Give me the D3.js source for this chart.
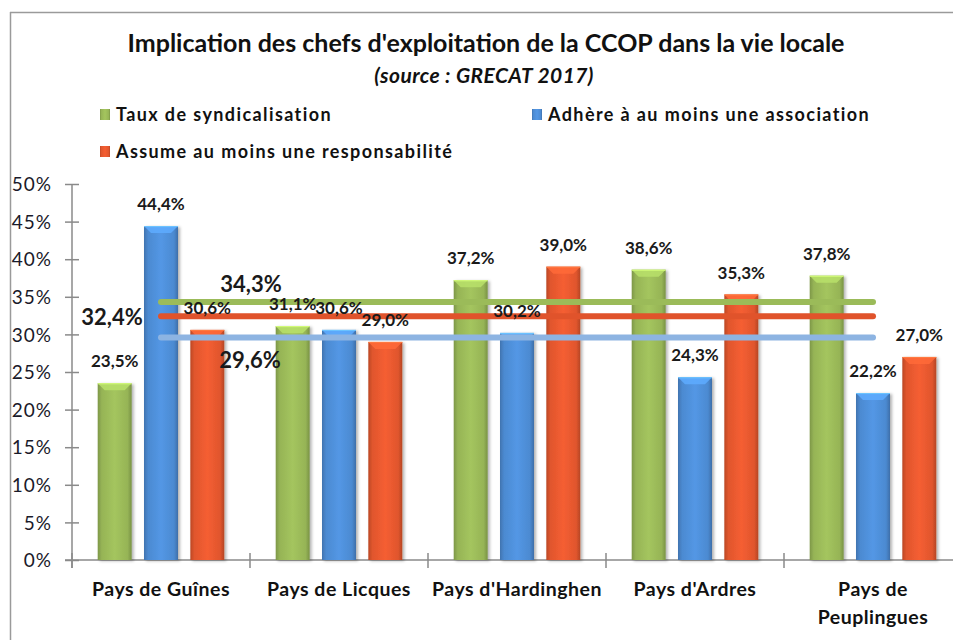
<!DOCTYPE html>
<html>
<head>
<meta charset="utf-8">
<script src="https://cdn.jsdelivr.net/npm/d3@7"></script>
<style>
  html, body { margin: 0; padding: 0; background: #fff; }
  svg { display: block; }
  text { font-family: Lato, "Open Sans", sans-serif; }
</style>
</head>
<body>
<svg id="chart" width="953" height="640"></svg>
<script>
// Territories (x categories)
const categories = ["Pays de Guînes", "Pays de Licques", "Pays d'Hardinghen", "Pays d'Ardres", "Pays de Peuplingues"];
// Series names
const seriesNames = ["Taux de syndicalisation", "Adhère à au moins une association", "Assume au moins une responsabilité"];
// Values in %
const syndicalisation = [23.5, 31.1, 37.2, 38.6, 37.8];
const association = [44.4, 30.6, 30.2, 24.3, 22.2];
const responsabilite = [30.6, 29.0, 39.0, 35.3, 27.0];
// Average over the CCOP for each series
const moyennes = [34.3, 29.6, 32.4];
// Y axis ticks
const yTicks = [0, 5, 10, 15, 20, 25, 30, 35, 40, 45, 50];

const colors = ["#9bbb59", "#4f8fd9", "#e8592f"];
const lineColors = ["#9bbb59", "#8db4e2", "#e0532b"];

const svg = d3.select("#chart");
const defs = svg.append("defs");

// Bar shading: darker edges, lighter centre
colors.forEach((c, i) => {
  const g = defs.append("linearGradient").attr("id", "grad" + i)
    .attr("x1", "0%").attr("x2", "100%").attr("y1", "0%").attr("y2", "0%");
  const base = d3.color(c);
  g.append("stop").attr("offset", "0%").attr("stop-color", base.darker(0.6));
  g.append("stop").attr("offset", "12%").attr("stop-color", base.darker(0.1));
  g.append("stop").attr("offset", "50%").attr("stop-color", base.brighter(0.15));
  g.append("stop").attr("offset", "88%").attr("stop-color", base.darker(0.1));
  g.append("stop").attr("offset", "100%").attr("stop-color", base.darker(0.7));
});
const shadow = defs.append("filter").attr("id", "shadow")
  .attr("x", "-20%").attr("y", "-10%").attr("width", "150%").attr("height", "130%");
shadow.append("feDropShadow").attr("dx", 2).attr("dy", 1).attr("stdDeviation", 1.8)
  .attr("flood-color", "#000").attr("flood-opacity", 0.3);

// Frame
svg.append("line").attr("x1", 10).attr("x2", 953).attr("y1", 12.5).attr("y2", 12.5)
  .attr("stroke", "#9a9a9a").attr("stroke-width", 1.5);
svg.append("line").attr("x1", 10.5).attr("x2", 10.5).attr("y1", 12).attr("y2", 640)
  .attr("stroke", "#9a9a9a").attr("stroke-width", 1.5);

// Title
svg.append("text").attr("x", 486).attr("y", 52).attr("text-anchor", "middle")
  .attr("font-size", 25).attr("font-weight", "bold").attr("fill", "#111")
  .text("Implication des chefs d'exploitation de la CCOP dans la vie locale");
svg.append("text").attr("x", 484).attr("y", 83).attr("text-anchor", "middle")
  .attr("font-size", 21).attr("font-weight", "bold").attr("font-style", "italic")
  .attr("letter-spacing", 0.4).attr("fill", "#111")
  .text("(source : GRECAT 2017)");

// Legend
const legendPos = [[100, 121], [532, 121], [100, 158]];
seriesNames.forEach((name, i) => {
  const g = svg.append("g").attr("transform", `translate(${legendPos[i][0]},${legendPos[i][1]})`);
  g.append("rect").attr("x", 0).attr("y", -12).attr("width", 10).attr("height", 11)
    .attr("fill", `url(#grad${i})`);
  g.append("text").attr("x", 16).attr("y", 0).attr("font-size", 18).attr("font-weight", "bold")
    .attr("letter-spacing", 1.4).attr("fill", "#111").text(name);
});

// Scales
const y = d3.scaleLinear().domain([0, 50]).range([560, 184]);
const x0 = d3.scaleBand().domain(categories).range([72, 962]).padding(0);
const x1 = d3.scaleBand().domain(d3.range(3)).range([25.7, 152.3]).paddingInner(0.266).paddingOuter(0);

const series = [syndicalisation, association, responsabilite];
const fmt = v => v.toFixed(1).replace(".", ",") + "%";

// Y axis
const yAxis = svg.append("g").attr("transform", "translate(72,0)")
  .call(d3.axisLeft(y).tickValues(yTicks).tickSize(7).tickFormat(d => d + "%").tickPadding(13));
yAxis.select(".domain").remove();
yAxis.selectAll(".tick line").attr("x1", 7).attr("x2", -7).attr("stroke", "#8a8a8a").attr("stroke-width", 1.5);
yAxis.selectAll(".tick text").attr("font-size", 19).attr("fill", "#1a1a2a").attr("letter-spacing", 1)
  .attr("font-family", "Lato, sans-serif").attr("dy", "0.35em");
svg.append("line").attr("x1", 72).attr("x2", 72).attr("y1", y(50)).attr("y2", 568)
  .attr("stroke", "#8a8a8a").attr("stroke-width", 1.5);

// X axis
svg.append("line").attr("x1", 65).attr("x2", 962).attr("y1", 560).attr("y2", 560)
  .attr("stroke", "#8a8a8a").attr("stroke-width", 1.5);
const boundaries = categories.map(c => x0(c)).concat([x0.range()[1]]);
svg.selectAll(".xtick").data(boundaries).enter().append("line")
  .attr("x1", d => d).attr("x2", d => d).attr("y1", 553).attr("y2", 568)
  .attr("stroke", "#8a8a8a").attr("stroke-width", 1.5);

// Category labels (wrapped where the label is too wide)
const catLines = c => c === "Pays de Peuplingues" ? ["Pays de", "Peuplingues"] : [c];
categories.forEach(c => {
  const t = svg.append("text").attr("text-anchor", "middle").attr("font-size", 19.5)
    .attr("font-weight", "bold").attr("letter-spacing", 0.5).attr("fill", "#111");
  catLines(c).forEach((l, k) => {
    t.append("tspan").attr("x", x0(c) + x0.bandwidth() / 2).attr("y", 596 + k * 28).text(l);
  });
});

// Bars
const bars = svg.append("g");
series.forEach((vals, si) => {
  vals.forEach((v, ci) => {
    const bx = x0(categories[ci]) + x1(si);
    const bw = x1.bandwidth();
    const top = y(v);
    const g = bars.append("g");
    g.append("rect").attr("x", bx).attr("y", top).attr("width", bw).attr("height", y(0) - top)
      .attr("fill", `url(#grad${si})`).attr("filter", "url(#shadow)");
    // bevelled top
    const bev = 7;
    g.append("polygon")
      .attr("points", [[bx, top], [bx + bw, top], [bx + bw - bev, top + bev], [bx + bev, top + bev]].map(p => p.join(",")).join(" "))
      .attr("fill", d3.color(colors[si]).brighter(0.5)).attr("opacity", 0.85);
    g.append("line").attr("x1", bx).attr("x2", bx + bw).attr("y1", top + 0.5).attr("y2", top + 0.5)
      .attr("stroke", d3.color(colors[si]).brighter(0.9)).attr("stroke-width", 1);
  });
});

// Average lines, from the first to the last category centre
const lineOrder = [0, 2, 1];
const xStart = x0(categories[0]) + x0.bandwidth() / 2;
const xEnd = x0(categories[categories.length - 1]) + x0.bandwidth() / 2;
lineOrder.forEach(si => {
  svg.append("line").attr("x1", xStart).attr("x2", xEnd)
    .attr("y1", y(moyennes[si])).attr("y2", y(moyennes[si]))
    .attr("stroke", lineColors[si]).attr("stroke-width", 6).attr("stroke-linecap", "round");
});

// Value labels
const labels = svg.append("g");
series.forEach((vals, si) => {
  vals.forEach((v, ci) => {
    const cx = x0(categories[ci]) + x1(si) + x1.bandwidth() / 2;
    labels.append("text").attr("x", cx).attr("y", y(v) - 16).attr("text-anchor", "middle")
      .attr("font-size", 17).attr("font-weight", "bold").attr("fill", "#1a1a1a").text(fmt(v));
  });
});

// Average labels
const avgLabelPos = [
  { x: 251, dy: -10 },   // syndicalisation, above its line
  { x: 250, dy: 31 },    // association, below its line
  { x: 112, dy: 9 }      // responsabilité, at the left of its line
];
moyennes.forEach((m, si) => {
  labels.append("text").attr("x", avgLabelPos[si].x).attr("y", y(m) + avgLabelPos[si].dy)
    .attr("text-anchor", "middle").attr("font-size", 22).attr("font-weight", "bold")
    .attr("fill", "#1a1a1a").text(fmt(m));
});
</script>
</body>
</html>
